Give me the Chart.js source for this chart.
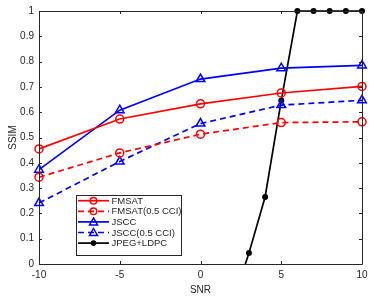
<!DOCTYPE html>
<html>
<head>
<meta charset="utf-8">
<script src="https://cdn.jsdelivr.net/npm/chart.js@4/dist/chart.umd.min.js"></script>
<style>
  html, body { margin: 0; padding: 0; background: #fff; }
  #wrap { width: 374px; height: 296px; }
</style>
</head>
<body>
<div id="wrap"><canvas id="ssimChart" width="374" height="296"></canvas></div>
<script>
// data
const snr = [-10, -5, 0, 5, 10];
const fmsat = [0.455, 0.573, 0.633, 0.676, 0.702];
const fmsatCci = [0.343, 0.439, 0.513, 0.559, 0.562];
const jscc = [0.373, 0.608, 0.731, 0.774, 0.785];
const jsccCci = [0.241, 0.405, 0.555, 0.628, 0.647];
const jpegSnr = [2, 3, 4, 5, 6, 7, 8, 9, 10];
const jpegLdpc = [-0.15, 0.043, 0.265, 0.646, 1, 1, 1, 1, 1];

const xTicks = [-10, -5, 0, 5, 10];
const yTicks = [0, 0.1, 0.2, 0.3, 0.4, 0.5, 0.6, 0.7, 0.8, 0.9, 1];

const labels = ['FMSAT', 'FMSAT(0.5 CCI)', 'JSCC', 'JSCC(0.5 CCI)', 'JPEG+LDPC'];

const FONT = '"Liberation Sans", Arial, sans-serif';
const AXIS_COLOR = '#262626';

function pts(xs, ys) {
    return xs.map((x, i) => ({ x: x, y: ys[i] }));
}

// box + inner ticks like matlab
const boxPlugin = {
    id: 'boxPlugin',
    afterDatasetsDraw(chart) {
        const { ctx, chartArea: a, scales } = chart;
        ctx.save();
        ctx.strokeStyle = AXIS_COLOR;
        ctx.lineWidth = 1;
        ctx.beginPath();
        ctx.rect(Math.round(a.left) + 0.5, Math.round(a.top) + 0.5,
                 Math.round(a.right - a.left), Math.round(a.bottom - a.top));
        ctx.stroke();
        ctx.beginPath();
        xTicks.forEach(v => {
            const px = Math.round(scales.x.getPixelForValue(v)) + 0.5;
            ctx.moveTo(px, a.bottom); ctx.lineTo(px, a.bottom - 3);
            ctx.moveTo(px, a.top); ctx.lineTo(px, a.top + 3);
        });
        yTicks.forEach(v => {
            const py = Math.round(scales.y.getPixelForValue(v)) + 0.5;
            ctx.moveTo(a.left, py); ctx.lineTo(a.left + 3, py);
            ctx.moveTo(a.right, py); ctx.lineTo(a.right - 3, py);
        });
        ctx.stroke();
        ctx.restore();
    }
};

function drawMarker(ctx, style, x, y, color) {
    ctx.save();
    ctx.strokeStyle = color;
    ctx.fillStyle = color;
    ctx.lineWidth = 1.5;
    ctx.setLineDash([]);
    ctx.beginPath();
    if (style === 'circle') {
        ctx.arc(x, y, 3.3, 0, Math.PI * 2);
        ctx.stroke();
    } else if (style === 'triangle') {
        ctx.moveTo(x, y - 4);
        ctx.lineTo(x + 4, y + 3);
        ctx.lineTo(x - 4, y + 3);
        ctx.closePath();
        ctx.stroke();
    } else {
        ctx.arc(x, y, 2.8, 0, Math.PI * 2);
        ctx.fill();
    }
    ctx.restore();
}

const legendPlugin = {
    id: 'boxLegend',
    afterDraw(chart) {
        const ctx = chart.ctx;
        const bx = 76, by = 195, bw = 105, bh = 60;
        ctx.save();
        ctx.fillStyle = '#fff';
        ctx.fillRect(bx, by, bw, bh);
        ctx.strokeStyle = AXIS_COLOR;
        ctx.lineWidth = 1;
        ctx.strokeRect(bx + 0.5, by + 0.5, bw, bh);
        ctx.font = '9.5px ' + FONT;
        ctx.textBaseline = 'middle';
        chart.data.datasets.forEach((ds, i) => {
            const y = 200.7 + i * 10.6;
            ctx.save();
            ctx.strokeStyle = ds.borderColor;
            ctx.lineWidth = ds.borderWidth;
            ctx.setLineDash(ds.borderDash || []);
            ctx.beginPath();
            ctx.moveTo(78, y);
            ctx.lineTo(109, y);
            ctx.stroke();
            ctx.restore();
            drawMarker(ctx, ds.legendMarker, 93.5, y, ds.borderColor);
            ctx.fillStyle = AXIS_COLOR;
            ctx.fillText(ds.label, 111.5, y + 0.5);
        });
        ctx.restore();
    }
};

new Chart(document.getElementById('ssimChart'), {
    type: 'line',
    data: {
        datasets: [
            {
                label: labels[0], data: pts(snr, fmsat),
                borderColor: '#ff0000', borderWidth: 1.7,
                pointStyle: 'circle', pointRadius: 4, pointBorderWidth: 1.5,
                pointBackgroundColor: 'rgba(0,0,0,0)', pointBorderColor: '#ff0000',
                legendMarker: 'circle', clip: 6
            },
            {
                label: labels[1], data: pts(snr, fmsatCci),
                borderColor: '#ff0000', borderWidth: 1.7, borderDash: [6, 4],
                pointStyle: 'circle', pointRadius: 4, pointBorderWidth: 1.5,
                pointBackgroundColor: 'rgba(0,0,0,0)', pointBorderColor: '#ff0000',
                legendMarker: 'circle', clip: 6
            },
            {
                label: labels[2], data: pts(snr, jscc),
                borderColor: '#0000ff', borderWidth: 1.7,
                pointStyle: 'triangle', pointRadius: 5, pointBorderWidth: 1.5,
                pointBackgroundColor: 'rgba(0,0,0,0)', pointBorderColor: '#0000ff',
                legendMarker: 'triangle', clip: 6
            },
            {
                label: labels[3], data: pts(snr, jsccCci),
                borderColor: '#0000ff', borderWidth: 1.7, borderDash: [6, 4],
                pointStyle: 'triangle', pointRadius: 5, pointBorderWidth: 1.5,
                pointBackgroundColor: 'rgba(0,0,0,0)', pointBorderColor: '#0000ff',
                legendMarker: 'triangle', clip: 6
            },
            {
                label: labels[4], data: pts(jpegSnr, jpegLdpc),
                borderColor: '#000000', borderWidth: 1.7,
                pointStyle: 'circle', pointRadius: 3, pointBorderWidth: 0,
                pointBackgroundColor: '#000000', pointBorderColor: '#000000',
                legendMarker: 'dot', clip: { left: 6, top: 6, right: 6, bottom: 0 }
            }
        ]
    },
    options: {
        responsive: false,
        animation: false,
        events: [],
        layout: { padding: { top: 9, right: 12, left: 0, bottom: 0 } },
        plugins: {
            legend: { display: false },
            tooltip: { enabled: false }
        },
        elements: { line: { tension: 0 } },
        scales: {
            x: {
                type: 'linear', min: -10, max: 10,
                afterBuildTicks: s => { s.ticks = xTicks.map(v => ({ value: v })); },
                afterFit: s => { s.height = 32; },
                grid: { display: false, drawTicks: false },
                border: { display: false },
                ticks: { color: AXIS_COLOR, font: { family: FONT, size: 10 }, padding: 5, maxRotation: 0 },
                title: { display: true, text: 'SNR', color: AXIS_COLOR, font: { family: FONT, size: 10 }, padding: { top: 1, bottom: 0 } }
            },
            y: {
                type: 'linear', min: 0, max: 1,
                afterBuildTicks: s => { s.ticks = yTicks.map(v => ({ value: v })); },
                afterFit: s => { s.width = 39; },
                grid: { display: false, drawTicks: false },
                border: { display: false },
                ticks: { color: AXIS_COLOR, font: { family: FONT, size: 10 }, padding: 5,
                         callback: v => String(Math.round(v * 10) / 10) },
                title: { display: true, text: 'SSIM', color: AXIS_COLOR, font: { family: FONT, size: 10 }, padding: { top: 7, bottom: 0 } }
            }
        }
    },
    plugins: [boxPlugin, legendPlugin]
});
</script>
</body>
</html>
